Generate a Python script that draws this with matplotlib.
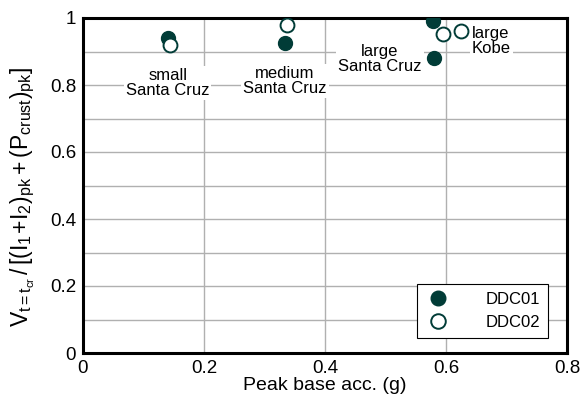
import matplotlib
matplotlib.use("Agg")
import matplotlib.pyplot as plt

plt.rcParams['font.family'] = ['Liberation Sans', 'DejaVu Sans']
plt.rcParams['mathtext.fontset'] = 'custom'
plt.rcParams['mathtext.rm'] = 'Liberation Sans'
plt.rcParams['mathtext.it'] = 'Liberation Sans'

# peak base acceleration (g) and normalized load
ddc01_x = [0.14, 0.334, 0.578, 0.58]
ddc01_y = [0.94, 0.925, 0.99, 0.88]
ddc02_x = [0.143, 0.337, 0.595, 0.624]
ddc02_y = [0.919, 0.979, 0.953, 0.962]

labels = ['small\nSanta Cruz', 'medium\nSanta Cruz', 'large\nSanta Cruz', 'large\nKobe']
label_x = [0.14, 0.334, 0.491, 0.643]
label_y = [0.805, 0.813, 0.878, 0.931]
label_ha = ['center', 'center', 'center', 'left']

dark = '#013c37'

fig = plt.figure(figsize=(5.83, 4.03), dpi=100)
ax = fig.add_axes([83 / 583, 50 / 403, 484 / 583, 335 / 403])

ax.set_xlim(0, 0.8)
ax.set_ylim(0, 1)
ax.set_xticks([0, 0.2, 0.4, 0.6, 0.8])
ax.set_xticklabels(['0', '0.2', '0.4', '0.6', '0.8'])
ax.set_yticks([0, 0.2, 0.4, 0.6, 0.8, 1])
ax.set_yticklabels(['0', '0.2', '0.4', '0.6', '0.8', '1'])
ax.set_yticks([0.1, 0.3, 0.5, 0.7, 0.9], minor=True)
ax.grid(True, which='both', color='#b0b0b0', linewidth=1)
ax.grid(False, which='minor', axis='x')
ax.tick_params(which='both', length=0, labelsize=13.5, pad=5)
for s in ax.spines.values():
    s.set_linewidth(2.2)

ax.plot(ddc01_x, ddc01_y, 'o', color=dark, markersize=10, label='DDC01', zorder=4)
ax.plot(ddc02_x, ddc02_y, 'o', markerfacecolor='white', markeredgecolor=dark,
        markeredgewidth=1.4, markersize=10, label='DDC02', zorder=4)

for t, x, y, ha in zip(labels, label_x, label_y, label_ha):
    ax.text(x, y, t, ha=ha, va='center', fontsize=12, linespacing=1.0,
            bbox=dict(facecolor='white', edgecolor='none', pad=1.5), zorder=3)

leg = ax.legend(loc='lower right', bbox_to_anchor=(0.961, 0.045), borderaxespad=0,
                fontsize=12, fancybox=False, edgecolor='black', framealpha=1,
                handletextpad=2.0, borderpad=0.5, labelspacing=0.45,
                handlelength=1.6, markerscale=1.05)
leg.get_frame().set_linewidth(0.8)

ax.set_xlabel('Peak base acc. (g)', fontsize=14, labelpad=0)
ax.set_ylabel(r'$\mathregular{V_{t=t_{cr}}\,/\,[(I_1\!+\!I_2)_{pk} + (P_{crust})_{pk}]}$',
              fontsize=16.5)
ax.yaxis.set_label_coords(-0.096, 0.466)

fig.savefig('out.png', dpi=100)
